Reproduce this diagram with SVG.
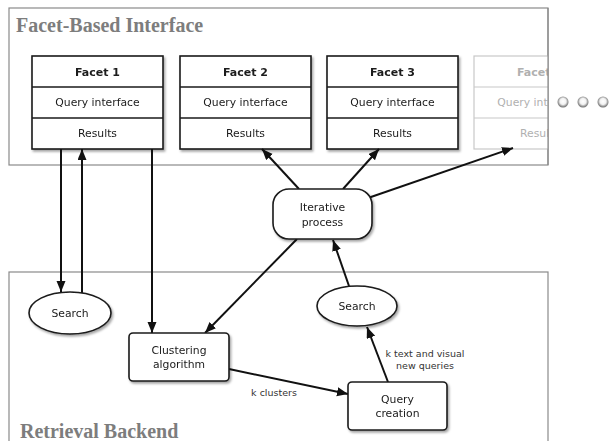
<svg xmlns="http://www.w3.org/2000/svg" width="610" height="441" viewBox="0 0 610 441">
<style>
.panel{fill:#fff;stroke:#8a8a8a;stroke-width:1.2}
.title{font-family:"Liberation Serif",serif;font-weight:bold;font-size:20px;fill:#7d7d7d}
.box{fill:#fff;stroke:#1a1a1a;stroke-width:1.6}
.fbox{fill:#fff;stroke:#c8c8c8;stroke-width:1.2}
.t{font-family:"DejaVu Sans",sans-serif;font-size:10.8px;fill:#1a1a1a;text-anchor:middle}
.hb{font-weight:bold;font-size:11px}
.ft{fill:#b0b0b0}
.lbl{font-family:"DejaVu Sans",sans-serif;font-size:9.5px;fill:#333;text-anchor:middle}
.c{fill:none;stroke:#111;stroke-width:2;marker-end:url(#ah)}
.cn{fill:none;stroke:#111;stroke-width:2}
</style>
<defs>
<marker id="ah" markerUnits="userSpaceOnUse" markerWidth="12" markerHeight="10" refX="11" refY="4.5" orient="auto"><path d="M0,0 L11,4.5 L0,9 z" fill="#111"/></marker>
<filter id="sh" x="-10%" y="-10%" width="130%" height="140%"><feDropShadow dx="1.5" dy="2" stdDeviation="1.3" flood-color="#000" flood-opacity="0.35"/></filter>
<radialGradient id="dot" cx="50%" cy="45%" r="55%"><stop offset="0" stop-color="#fff"/><stop offset="0.5" stop-color="#f2f2f2"/><stop offset="0.8" stop-color="#9a9a9a"/><stop offset="1" stop-color="#6a6a6a"/></radialGradient>
<clipPath id="clipTop"><rect x="9" y="8" width="539" height="157"/></clipPath>
</defs>
<g id="panel-facet">
<rect class="panel" x="9" y="8" width="539" height="157"/>
<text class="title" x="16" y="32">Facet-Based Interface</text>
</g>
<g id="panel-backend">
<rect class="panel" x="9" y="272" width="539" height="185"/>
<text class="title" x="20" y="438">Retrieval Backend</text>
</g>
<g id="facet1" filter="url(#sh)">
<rect class="box" x="32" y="56" width="131" height="93"/>
<line class="box" x1="32" y1="87" x2="163" y2="87"/>
<line class="box" x1="32" y1="118" x2="163" y2="118"/>
<text class="t hb" x="97.5" y="76">Facet 1</text>
<text class="t" x="97.5" y="106">Query interface</text>
<text class="t" x="97.5" y="137">Results</text>
</g>
<g id="facet2" filter="url(#sh)">
<rect class="box" x="180" y="56" width="131" height="93"/>
<line class="box" x1="180" y1="87" x2="311" y2="87"/>
<line class="box" x1="180" y1="118" x2="311" y2="118"/>
<text class="t hb" x="245.5" y="76">Facet 2</text>
<text class="t" x="245.5" y="106">Query interface</text>
<text class="t" x="245.5" y="137">Results</text>
</g>
<g id="facet3" filter="url(#sh)">
<rect class="box" x="327" y="56" width="131" height="93"/>
<line class="box" x1="327" y1="87" x2="458" y2="87"/>
<line class="box" x1="327" y1="118" x2="458" y2="118"/>
<text class="t hb" x="392.5" y="76">Facet 3</text>
<text class="t" x="392.5" y="106">Query interface</text>
<text class="t" x="392.5" y="137">Results</text>
</g>
<g id="facet4" clip-path="url(#clipTop)">
<rect class="fbox" x="474" y="56" width="131" height="93"/>
<line class="fbox" x1="474" y1="87" x2="605" y2="87"/>
<line class="fbox" x1="474" y1="118" x2="605" y2="118"/>
<text class="t hb ft" x="539.5" y="76">Facet 4</text>
<text class="t ft" x="539.5" y="106">Query interface</text>
<text class="t ft" x="539.5" y="137">Results</text>
</g>
<line x1="548" y1="8" x2="548" y2="165" stroke="#8a8a8a" stroke-width="1.2"/>
<g id="more-dots">
<circle cx="563" cy="102" r="5.5" fill="url(#dot)"/>
<circle cx="583" cy="102" r="5.5" fill="url(#dot)"/>
<circle cx="603" cy="102" r="5.5" fill="url(#dot)"/>
</g>
<g id="connectors">
<line class="c" x1="61" y1="149" x2="61" y2="292"/>
<line class="c" x1="82" y1="293" x2="82" y2="149"/>
<line class="c" x1="152" y1="149" x2="152" y2="333"/>
<line class="c" x1="297" y1="239" x2="205" y2="333"/>
<line class="c" x1="299" y1="189" x2="262" y2="149"/>
<line class="c" x1="343" y1="189" x2="379" y2="149"/>
<line class="c" x1="368" y1="198" x2="513" y2="148"/>
<line class="c" x1="349" y1="286" x2="333" y2="240"/>
<line class="c" x1="388" y1="382" x2="367" y2="327"/>
<line class="c" x1="229" y1="369" x2="348" y2="394"/>
<text class="lbl" x="274" y="396">k clusters</text>
<text class="lbl" x="425" y="357">k text and visual</text>
<text class="lbl" x="425" y="369">new queries</text>
</g>
<g id="iterative" filter="url(#sh)">
<rect class="box" x="273" y="189" width="99" height="50" rx="16"/>
<text class="t" x="322.5" y="211">Iterative</text>
<text class="t" x="322.5" y="226">process</text>
</g>
<g id="search-left" filter="url(#sh)">
<ellipse class="box" cx="70" cy="313" rx="41" ry="21"/>
<text class="t" x="70" y="317">Search</text>
</g>
<g id="search-right" filter="url(#sh)">
<ellipse class="box" cx="357" cy="306" rx="40" ry="20"/>
<text class="t" x="357" y="310">Search</text>
</g>
<g id="clustering" filter="url(#sh)">
<rect class="box" x="129" y="333" width="100" height="48" rx="4"/>
<text class="t" x="179" y="354">Clustering</text>
<text class="t" x="179" y="368">algorithm</text>
</g>
<g id="query-creation" filter="url(#sh)">
<rect class="box" x="348" y="382" width="99" height="48" rx="4"/>
<text class="t" x="397.5" y="403">Query</text>
<text class="t" x="397.5" y="417">creation</text>
</g>
</svg>
